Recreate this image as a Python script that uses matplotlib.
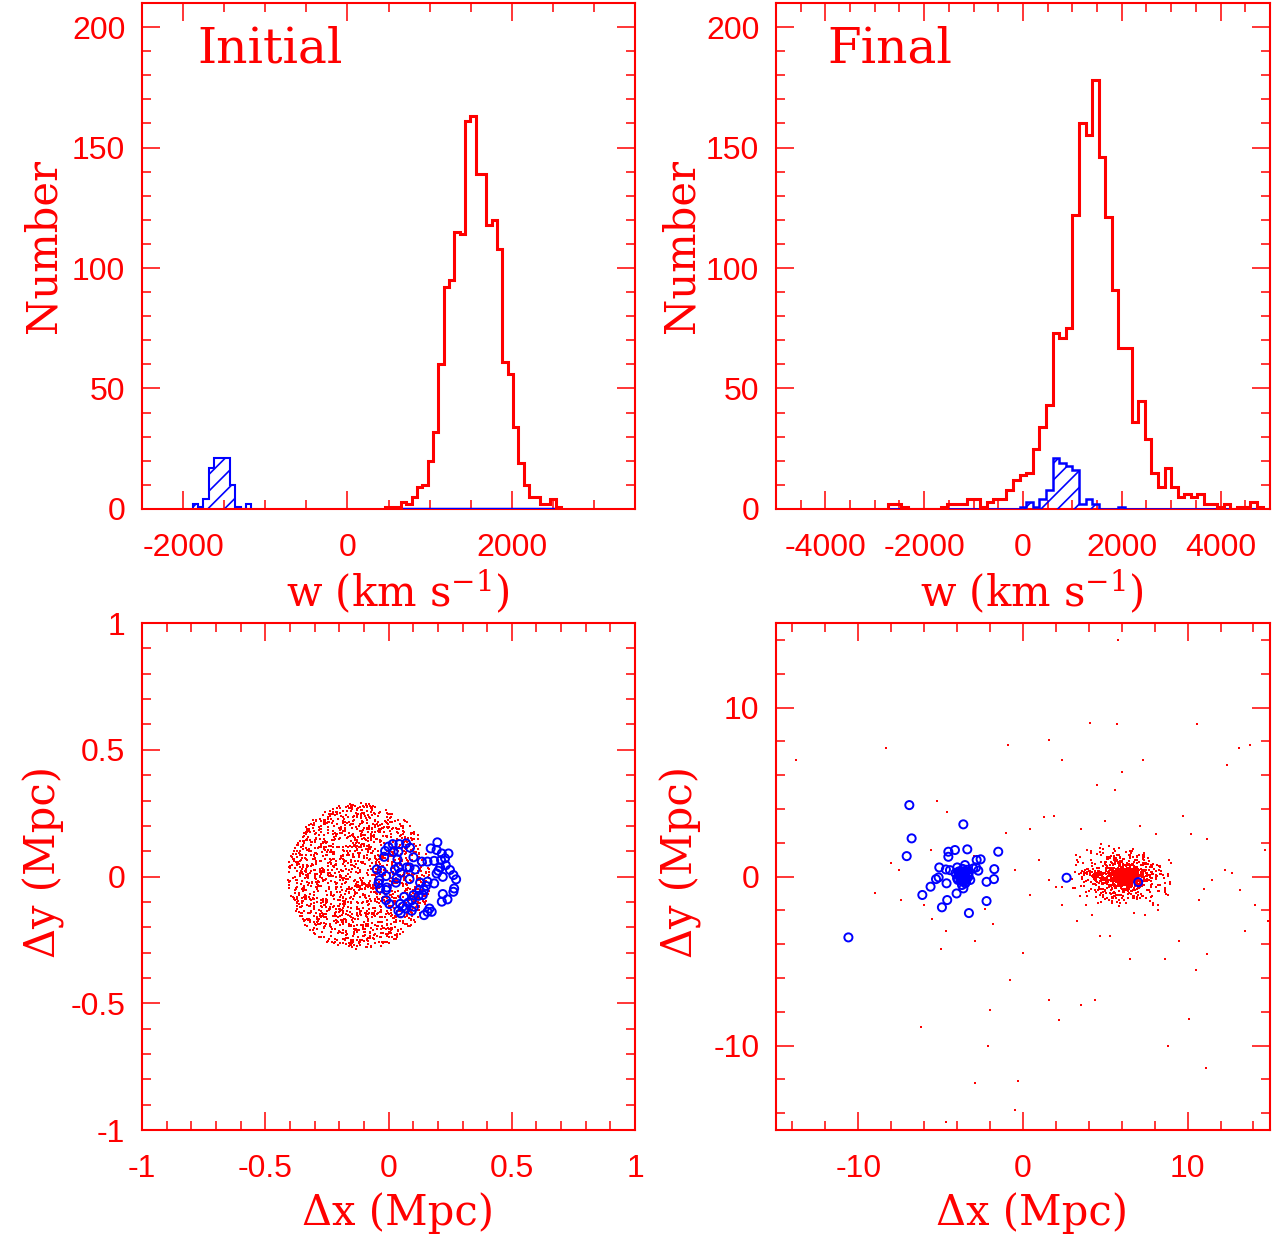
import numpy as np
import matplotlib
matplotlib.use("Agg")
from matplotlib import pyplot as plt
from matplotlib.ticker import MultipleLocator, FuncFormatter

RED = "#ff0000"
BLUE = "#0000ff"

# --- initial velocity histogram, 65 km/s bins ---
tl_red_start, tl_binw = 455, 65
tl_red = [1, 1, 1, 3, 2, 5, 9, 10, 20, 32, 60, 92, 95, 115, 114, 161, 163,
          139, 139, 118, 120, 108, 61, 56, 34, 19, 10, 5, 5, 2, 2, 4, 1]
tl_blue_start = -1885
tl_blue = [2, 1, 4, 17, 21, 21, 21, 10, 1, 0, 2]

# --- final velocity histogram, bins of 4000/30 km/s ---
tr_start, tr_binw = -2733.33, 4000 / 30
tr_red = [2, 2, 1, 0, 0, 0, 0, 0, 1, 2, 2, 2, 4, 4, 1, 3, 4, 4, 8, 12,
          14, 15, 25, 34, 43, 73, 71, 75, 122, 160, 155, 178, 146, 121, 91, 67,
          67, 36, 45, 29, 15, 9, 17, 9, 5, 6, 5, 6, 2, 2, 1, 2, 0, 1, 1, 3, 1, 0]
tr_blue = [0] * 20 + [1, 3, 1, 4, 8, 21, 19, 18, 16, 2, 4, 2, 0, 0, 0, 1] + [0] * 22

# --- initial positions (Mpc) ---
bl_blue_x = [0.198, 0.171, 0.195, 0.216, 0.243, 0.229, 0.213, 0.185, 0.158, 0.135,
             0.232, 0.209, 0.202, 0.220, 0.195, 0.249, 0.263, 0.274, 0.266, 0.263,
             0.220, 0.239, 0.216, 0.185, 0.158, 0.152, 0.144, 0.139, 0.121, 0.101,
             0.094, 0.080, 0.063, 0.057, 0.071, 0.094, 0.103, 0.047, 0.040, 0.049,
             0.144, 0.158, 0.175, 0.166, 0.125, 0.128, 0.108, 0.085, 0.074, 0.040,
             0.026, 0.049, 0.033, 0.030, -0.007, -0.010, -0.034, -0.041, -0.037, -0.048,
             -0.028, -0.010, -0.010, 0.003, 0.036, 0.040, 0.017, 0.044, 0.071, 0.087,
             0.101, 0.085, -0.001, -0.014, -0.018, 0.020]
bl_blue_y = [0.135, 0.111, 0.105, 0.091, 0.091, 0.072, 0.065, 0.062, 0.059, 0.059,
             0.045, 0.036, 0.023, -0.001, 0.012, 0.026, 0.006, -0.011, -0.047, -0.060,
             -0.069, -0.090, -0.099, -0.027, -0.020, -0.037, -0.053, -0.073, -0.076, -0.073,
             -0.093, -0.103, -0.080, -0.119, -0.126, -0.135, -0.119, -0.108, -0.135, -0.145,
             -0.152, -0.139, -0.139, -0.126, -0.053, -0.024, 0.028, 0.036, 0.036, 0.036,
             0.028, 0.015, -0.007, -0.024, -0.043, -0.053, -0.047, -0.027, -0.014, 0.028,
             0.023, 0.002, -0.093, -0.108, 0.068, 0.098, 0.128, 0.128, 0.131, 0.114,
             0.076, -0.010, 0.118, 0.101, 0.078, 0.098]
# red cloud: uniform disc (centre x, centre y, radius, count)
bl_cloud = (-0.12, 0.0, 0.29, 1700)

# --- final positions (Mpc) ---
br_blue_x = [-6.90, -3.62, -6.76, -7.06, -4.53, -4.13, -3.38, -1.50, -4.53, -5.08,
             -4.68, -4.43, -3.99, -3.52, -2.81, -2.57, -3.02, -2.71, -2.85, -1.74,
             -5.28, -5.12, -5.61, -6.11, -4.64, -4.03, -3.62, -2.21, -1.76, -2.21,
             -4.60, -4.92, -3.28, 2.65, 7.00, -10.6,
             -3.9, -3.6, -3.4, -3.8, -3.5, -3.7, -3.3, -4.0, -3.6, -3.9,
             -3.4, -3.7, -3.5, -3.8, -3.6, -3.2, -4.1, -3.5, -3.7, -3.3,
             -3.75, -3.55, -3.85, -3.45, -3.65, -3.95, -3.35, -3.7, -3.6, -3.8]
br_blue_y = [4.23, 3.09, 2.26, 1.21, 1.47, 1.57, 1.61, 1.47, 1.17, 0.54,
             0.42, 0.38, 0.54, 0.68, 0.98, 1.02, 0.48, 0.35, 0.54, 0.44,
             -0.15, -0.05, -0.60, -1.09, -0.40, -1.00, -0.70, -0.31, -0.15, -1.45,
             -1.39, -1.82, -2.16, -0.07, -0.33, -3.6,
             0.1, 0.2, -0.1, -0.2, 0.0, 0.3, 0.2, -0.1, -0.3, 0.3,
             0.4, -0.1, -0.4, 0.0, 0.1, -0.2, 0.2, 0.3, -0.5, 0.0,
             -0.25, 0.15, 0.05, -0.3, 0.45, -0.2, 0.1, 0.05, -0.15, 0.25]
br_red_x = [-13.8, -8.3, -0.9, 1.6, 4.1, 5.7, 10.6, 12.4, 13.1, 13.8, 2.4, 4.5, 6.0,
            7.3, 9.7, 10.2, 11.2, 14.7, 12.3, 14.1, 13.5, 11.2, 10.5, 9.5, 8.6, 6.5,
            4.4, 3.5, 2.2, 1.6, 11.1, 10.1, -0.3, -2.9, -2.1, -2.0, -6.2, -4.7, -0.5,
            -7.4, -7.5, -5.6, -5.2, -4.6, -1.0, 0.4, 1.3, 1.9, 3.5, 3.9, 3.2, 1.0,
            -0.5, 1.6, 0.4, 2.4, 3.3, 4.7, 7.4, 8.2, 8.6, 8.9, 8.1, 7.1, 5.0, -2.3,
            -2.9, -4.7, -6.0, -0.8, -5.0, 5.6, 14.9, 8.8, 5.3, 10.7, 11.5, 12.7,
            13.2, 5.8, -9.0, -8.0, -5.5, -1.5, 2.0, -3.0, 0.0, -1.8]
br_red_y = [6.9, 7.6, 7.8, 8.1, 9.1, 9.0, 9.0, 6.6, 7.6, 7.8, 6.9, 5.4, 6.2,
            6.9, 3.6, 2.5, 2.2, 1.6, 0.4, -1.7, -3.2, -4.6, -5.5, -3.8, -4.9, -4.9,
            -7.3, -7.6, -8.5, -7.3, -11.3, -8.4, -12.1, -12.2, -10.0, -7.9, -8.9, -14.5, -13.8,
            -1.4, 0.4, 1.6, 4.5, 3.8, 2.6, 2.8, 3.5, 3.6, 2.8, 1.6, 1.3, 1.0,
            0.4, -0.2, -1.1, -1.7, -2.6, -3.5, -2.3, -1.7, -0.8, 1.0, 2.5, 3.0, 3.3, -1.9,
            -3.8, -3.2, -1.7, -6.1, -4.3, 5.1, -2.6, -10.0, -3.5, -1.4, -0.2, 0.2,
            -0.8, 14.0, -1.0, 0.8, -2.5, 0.5, -0.6, 1.2, -4.5, -2.8]
# red cluster: (centre x, centre y, core sx, core sy, halo sx, halo sy, n core, n halo)
br_cloud = (6.1, 0.0, 0.35, 0.22, 1.2, 0.7, 800, 700)

plt.rcParams["font.family"] = ["DejaVu Serif"]
plt.rcParams["mathtext.fontset"] = "dejavuserif"
plt.rcParams["axes.unicode_minus"] = False
plt.rcParams["hatch.linewidth"] = 1.2

fig = plt.figure(figsize=(12.83, 12.38), dpi=100)
ax_tl = fig.add_axes([0.1107, 0.5889, 0.3843, 0.4087])
ax_tr = fig.add_axes([0.6048, 0.5889, 0.3850, 0.4087])
ax_bl = fig.add_axes([0.1107, 0.0872, 0.3843, 0.4095])
ax_br = fig.add_axes([0.6048, 0.0872, 0.3850, 0.4095])

fmt = FuncFormatter(lambda v, p: "%g" % (round(v, 6) + 0.0))


def style(ax, xmaj, xmin, ymaj, ymin):
    ax.xaxis.set_major_locator(MultipleLocator(xmaj))
    ax.xaxis.set_minor_locator(MultipleLocator(xmin))
    ax.yaxis.set_major_locator(MultipleLocator(ymaj))
    ax.yaxis.set_minor_locator(MultipleLocator(ymin))
    ax.xaxis.set_major_formatter(fmt)
    ax.yaxis.set_major_formatter(fmt)
    ax.tick_params(which="both", direction="in", top=True, right=True,
                   colors=RED, labelsize=23, labelfontfamily="Liberation Sans")
    ax.tick_params(which="major", length=13, width=1.1)
    ax.tick_params(which="minor", length=6.5, width=1.1)
    ax.tick_params(axis="x", pad=17)
    ax.tick_params(axis="y", pad=12)
    for s in ax.spines.values():
        s.set_color(RED)
        s.set_linewidth(1.5)


def label(ax, x, y, s, rot=0, size=30):
    ax.text(x, y, s, transform=ax.transAxes, ha="center", va="center",
            rotation=rot, color=RED, fontsize=size)


# top left: initial histogram
tl_red_edges = tl_red_start + tl_binw * np.arange(len(tl_red) + 1)
tl_blue_edges = tl_blue_start + tl_binw * np.arange(len(tl_blue) + 1)
ax_tl.stairs(tl_blue, tl_blue_edges, fill=True, facecolor="none", edgecolor=BLUE,
             hatch="//", linewidth=1.5, zorder=2)
ax_tl.stairs(np.zeros(len(tl_red)), tl_red_edges, color=BLUE, linewidth=2.5, zorder=3)
ax_tl.stairs(tl_red, tl_red_edges, color=RED, linewidth=2.2, zorder=4)
ax_tl.set_xlim(-2500, 3500)
ax_tl.set_ylim(0, 210)
style(ax_tl, 2000, 500, 50, 10)
label(ax_tl, 0.26, 0.91, "Initial", size=35)

# top right: final histogram
tr_edges = tr_start + tr_binw * np.arange(len(tr_red) + 1)
ax_tr.stairs(tr_blue, tr_edges, fill=True, facecolor="none", edgecolor=BLUE,
             hatch="//", linewidth=1.8, zorder=3)
ax_tr.stairs(tr_red, tr_edges, color=RED, linewidth=2.2, zorder=4)
ax_tr.set_xlim(-5000, 5000)
ax_tr.set_ylim(0, 210)
style(ax_tr, 2000, 500, 50, 10)
label(ax_tr, 0.23, 0.91, "Final", size=35)

for ax, xl in ((ax_tl, -0.2), (ax_tr, -0.192)):
    label(ax, xl, 0.52, "Number", rot=90)
    label(ax, 0.519, -0.164, "w (km s$^{-1}$)")

# bottom left: initial positions
cx, cy, rad, n = bl_cloud
rng = np.random.default_rng(7)
r = rad * np.sqrt(rng.random(n))
t = 2 * np.pi * rng.random(n)
ax_bl.scatter(cx + r * np.cos(t), cy + r * np.sin(t), s=2.0, marker="s",
              color=RED, linewidths=0)
ax_bl.scatter(bl_blue_x, bl_blue_y, s=34, marker="o", facecolors="none",
              edgecolors=BLUE, linewidths=1.4)
ax_bl.set_xlim(-1, 1)
ax_bl.set_ylim(-1, 1)
style(ax_bl, 0.5, 0.1, 0.5, 0.1)

# bottom right: final positions
cx, cy, sx1, sy1, sx2, sy2, n1, n2 = br_cloud
px = np.concatenate([rng.normal(cx, sx1, n1), rng.normal(cx, sx2, n2)])
py = np.concatenate([rng.normal(cy, sy1, n1), rng.normal(cy, sy2, n2)])
ax_br.scatter(px, py, s=2.5, marker="s", color=RED, linewidths=0)
ax_br.scatter(br_red_x, br_red_y, s=2.5, marker="s", color=RED, linewidths=0)
ax_br.scatter(br_blue_x, br_blue_y, s=34, marker="o", facecolors="none",
              edgecolors=BLUE, linewidths=1.4)
ax_br.set_xlim(-15, 15)
ax_br.set_ylim(-15, 15)
style(ax_br, 10, 2, 10, 2)

for ax, xl in ((ax_bl, -0.2), (ax_br, -0.192)):
    label(ax, xl, 0.529, "Δy (Mpc)", rot=90)
    label(ax, 0.519, -0.164, "Δx (Mpc)")

fig.savefig("out.png", dpi=100)
